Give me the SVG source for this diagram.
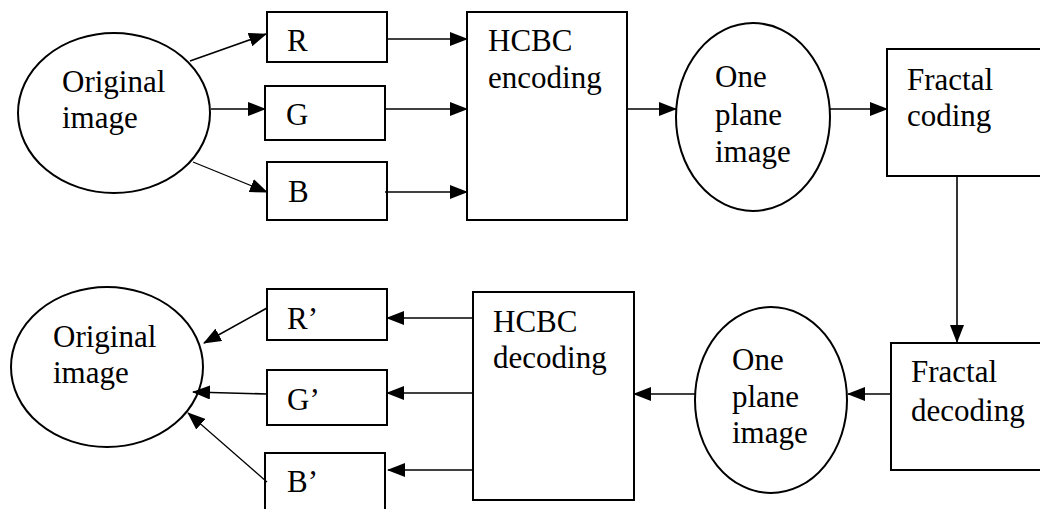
<svg xmlns="http://www.w3.org/2000/svg" width="1040" height="509" viewBox="0 0 1040 509">
<style>
.s{fill:#fff;stroke:#000;stroke-width:2}
.t{font-size:31px;fill:#000}
.c{stroke:#000;stroke-width:1.6;fill:none}
.th{stroke-width:1.2}
</style>
<defs>
<marker id="a" markerWidth="18" markerHeight="14" refX="17" refY="7" orient="auto" markerUnits="userSpaceOnUse">
<path d="M0,0 L18,7 L0,14 Z" fill="#000"/>
</marker>
</defs>
<rect width="1040" height="509" fill="#fff"/>
<g font-family="Liberation Serif, Times New Roman, DejaVu Serif, serif">
<g id="orig-top"><ellipse class="s" cx="114" cy="113" rx="96" ry="80"/><text class="t" x="62" y="92">Original</text><text class="t" x="62" y="128">image</text></g>
<g id="R"><rect class="s" x="267" y="12" width="120" height="50"/><text class="t" x="287" y="51">R</text></g>
<g id="G"><rect class="s" x="265" y="86" width="120" height="54"/><text class="t" x="286" y="125">G</text></g>
<g id="B"><rect class="s" x="267" y="162" width="120" height="58"/><text class="t" x="288" y="202">B</text></g>
<g id="hcbc-enc"><rect class="s" x="467" y="12" width="160" height="208"/><text class="t" x="488" y="51">HCBC</text><text class="t" x="488" y="88">encoding</text></g>
<g id="plane-top"><ellipse class="s" cx="753" cy="117" rx="77" ry="94"/><text class="t" x="715" y="87">One</text><text class="t" x="715" y="125">plane</text><text class="t" x="715" y="162">image</text></g>
<g id="fractal-coding"><rect class="s" x="887" y="49" width="170" height="127"/><text class="t" x="907" y="90">Fractal</text><text class="t" x="907" y="126">coding</text></g>
<g id="fractal-decoding"><rect class="s" x="891" y="343" width="170" height="127"/><text class="t" x="911" y="382">Fractal</text><text class="t" x="911" y="421">decoding</text></g>
<g id="plane-bottom"><ellipse class="s" cx="771" cy="400" rx="76" ry="93"/><text class="t" x="732" y="370">One</text><text class="t" x="732" y="407">plane</text><text class="t" x="732" y="443">image</text></g>
<g id="hcbc-dec"><rect class="s" x="473" y="292" width="161" height="208"/><text class="t" x="493" y="332">HCBC</text><text class="t" x="493" y="368">decoding</text></g>
<g id="R2"><rect class="s" x="267" y="289" width="120" height="51"/><text class="t" x="287" y="329">R’</text></g>
<g id="G2"><rect class="s" x="267" y="370" width="120" height="55"/><text class="t" x="287" y="410">G’</text></g>
<g id="B2"><rect class="s" x="265" y="453" width="120" height="70"/><text class="t" x="287" y="492">B’</text></g>
<g id="orig-bottom"><ellipse class="s" cx="107" cy="367" rx="96" ry="80"/><text class="t" x="53" y="347">Original</text><text class="t" x="53" y="383">image</text></g>
</g>
<g id="connectors">
<line class="c" x1="190" y1="61" x2="266" y2="34" marker-end="url(#a)"/>
<line class="c" x1="211" y1="109" x2="265" y2="109" marker-end="url(#a)"/>
<line class="c th" x1="193" y1="162" x2="267" y2="192" marker-end="url(#a)"/>
<line class="c" x1="387" y1="39" x2="467" y2="39" marker-end="url(#a)"/>
<line class="c" x1="385" y1="109" x2="467" y2="109" marker-end="url(#a)"/>
<line class="c" x1="385" y1="192" x2="467" y2="192" marker-end="url(#a)"/>
<line class="c" x1="627" y1="109" x2="676" y2="109" marker-end="url(#a)"/>
<line class="c" x1="830" y1="109" x2="887" y2="109" marker-end="url(#a)"/>
<line class="c" x1="957" y1="176" x2="957" y2="342" marker-end="url(#a)"/>
<line class="c" x1="891" y1="394" x2="848" y2="394" marker-end="url(#a)"/>
<line class="c" x1="695" y1="394" x2="634" y2="394" marker-end="url(#a)"/>
<line class="c" x1="473" y1="318" x2="387" y2="318" marker-end="url(#a)"/>
<line class="c" x1="473" y1="393" x2="387" y2="393" marker-end="url(#a)"/>
<line class="c" x1="473" y1="470" x2="388" y2="470" marker-end="url(#a)"/>
<line class="c" x1="267" y1="308" x2="204" y2="343" marker-end="url(#a)"/>
<line class="c" x1="267" y1="394" x2="193" y2="392" marker-end="url(#a)"/>
<line class="c th" x1="267" y1="482" x2="188" y2="413" marker-end="url(#a)"/>
</g>
</svg>
